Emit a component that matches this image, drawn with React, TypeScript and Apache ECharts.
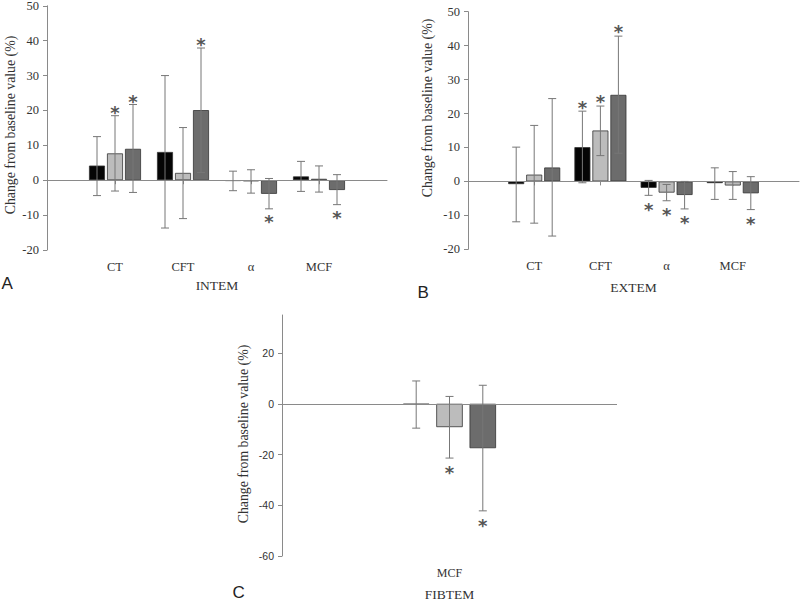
import React, { useEffect, useRef } from 'react';
import * as echarts from 'echarts';

// Categories
const CATS_AB = ['', 'CT', 'CFT', 'α', 'MCF', ''];
const CATS_C = ['MCF'];

// Y tick values for panel C
const C_TICKS = [-60, -40, -20, 0, 20];

// INTEM (panel A) — series 1 (black), 2 (light grey), 3 (dark grey)
const INTEM_MEAN_1 = [4.2, 8.1, -0.2, 1.1];
const INTEM_HIGH_1 = [12.5, 30.0, 2.6, 5.4];
const INTEM_LOW_1 = [-4.4, -13.7, -3.0, -3.2];
const INTEM_SIG_1 = [0, 0, 0, 0];
const INTEM_MEAN_2 = [7.7, 2.1, -0.3, 0.4];
const INTEM_HIGH_2 = [18.5, 15.1, 3.0, 4.1];
const INTEM_LOW_2 = [-3.1, -11.0, -3.7, -3.4];
const INTEM_SIG_2 = [1, 0, 0, 0];
const INTEM_MEAN_3 = [9.0, 20.1, -3.9, -2.8];
const INTEM_HIGH_3 = [21.7, 37.9, 0.5, 1.6];
const INTEM_LOW_3 = [-3.5, 2.2, -8.2, -7.0];
const INTEM_SIG_3 = [1, 1, -1, -1];

// EXTEM (panel B)
const EXTEM_MEAN_1 = [-0.8, 10.1, -1.9, -0.5];
const EXTEM_HIGH_1 = [10.1, 20.7, 0.3, 4.0];
const EXTEM_LOW_1 = [-11.9, -0.4, -4.1, -5.3];
const EXTEM_SIG_1 = [0, 1, -1, 0];
const EXTEM_MEAN_2 = [2.0, 15.0, -3.3, -1.2];
const EXTEM_HIGH_2 = [16.5, 22.2, -0.9, 2.9];
const EXTEM_LOW_2 = [-12.3, 7.6, -5.7, -5.3];
const EXTEM_SIG_2 = [0, 1, -1, 0];
const EXTEM_MEAN_3 = [4.1, 25.5, -4.0, -3.5];
const EXTEM_HIGH_3 = [24.4, 42.8, 0.0, 1.4];
const EXTEM_LOW_3 = [-16.1, 8.3, -8.1, -8.3];
const EXTEM_SIG_3 = [0, 1, -1, -1];

// FIBTEM (panel C)
const FIBTEM_MEAN_1 = [-0.3];
const FIBTEM_HIGH_1 = [9.0];
const FIBTEM_LOW_1 = [-9.6];
const FIBTEM_SIG_1 = [0];
const FIBTEM_MEAN_2 = [-9.2];
const FIBTEM_HIGH_2 = [2.9];
const FIBTEM_LOW_2 = [-21.4];
const FIBTEM_SIG_2 = [-1];
const FIBTEM_MEAN_3 = [-17.5];
const FIBTEM_HIGH_3 = [7.3];
const FIBTEM_LOW_3 = [-42.2];
const FIBTEM_SIG_3 = [-1];

const COLORS = ['#050505', '#bcbcbc', '#6c6c6c'];
const TEXT = '#333';
const AXIS = '#8a8a8a';
const ERR = '#777';
const STAR = '#555';
const SERIF = 'Liberation Serif';
const SANS = 'Liberation Sans';

function padded(arr: number[]) {
  return ['-', ...arr, '-'];
}

function errData(
  highs: number[][], lows: number[][], sigs: number[][], shift: number
) {
  const out: number[][] = [];
  for (let s = 0; s < 3; s++) {
    for (let i = 0; i < highs[s].length; i++) {
      out.push([i + shift, lows[s][i], highs[s][i], sigs[s][i], s]);
    }
  }
  return out;
}

function makeRender(spacing: number, capW: number, starGap: number) {
  return (params: any, api: any) => {
    const x = api.value(0);
    const lo = api.value(1);
    const hi = api.value(2);
    const sig = api.value(3);
    const s = api.value(4);
    const pLo = api.coord([x, lo]);
    const pHi = api.coord([x, hi]);
    const cx = pLo[0] + (s - 1) * spacing;
    const ls = { stroke: ERR, lineWidth: 1 };
    const children: any[] = [
      { type: 'line', shape: { x1: cx, y1: pHi[1], x2: cx, y2: pLo[1] }, style: ls },
      { type: 'line', shape: { x1: cx - capW / 2, y1: pHi[1], x2: cx + capW / 2, y2: pHi[1] }, style: ls },
      { type: 'line', shape: { x1: cx - capW / 2, y1: pLo[1], x2: cx + capW / 2, y2: pLo[1] }, style: ls },
    ];
    const fs = 18;
    if (sig !== 0) {
      const cy = sig > 0 ? pHi[1] - starGap : pLo[1] + starGap;
      children.push({
        type: 'text',
        x: cx,
        y: cy + 0.27 * fs,
        style: {
          text: '*',
          fill: STAR,
          fontSize: fs,
          fontWeight: 'bold',
          fontFamily: 'DejaVu Sans',
          align: 'center',
          verticalAlign: 'middle',
        },
      });
    }
    return { type: 'group', children };
  };
}

function barSeries(data: any[], idx: number, axis: number, barWidth: number, gap: string, withZero: boolean) {
  const s: any = {
    type: 'bar',
    xAxisIndex: axis,
    yAxisIndex: axis,
    data,
    barWidth,
    barGap: gap,
    itemStyle: { color: COLORS[idx], borderColor: '#333', borderWidth: 0.8 },
    silent: true,
  };
  if (withZero) {
    s.markLine = {
      silent: true,
      symbol: 'none',
      label: { show: false },
      lineStyle: { color: AXIS, width: 1, type: 'solid' },
      data: [{ yAxis: 0 }],
    };
  }
  return s;
}

export default function App() {
  const ref = useRef<HTMLDivElement>(null);

  useEffect(() => {
    if (!ref.current) return;
    const chart = echarts.init(ref.current, undefined, { renderer: 'svg' });

    const yLabelSerif = { color: TEXT, fontFamily: SERIF, fontSize: 12.5, margin: 8 };
    const xLabelSerif = { color: TEXT, fontFamily: SERIF, fontSize: 12.5, margin: 10, interval: 0 };
    const titleStyle = { color: TEXT, fontFamily: SERIF, fontSize: 13.5 };

    const option: any = {
      animation: false,
      backgroundColor: '#fff',
      grid: [
        { left: 47, top: 5.8, width: 340, height: 244.2, outerBoundsMode: 'none' },
        { left: 468, top: 11.7, width: 331, height: 237.6, outerBoundsMode: 'none' },
        { left: 282, top: 315, width: 335, height: 241, outerBoundsMode: 'none' },
      ],
      xAxis: [
        {
          gridIndex: 0, type: 'category', data: CATS_AB, boundaryGap: false,
          axisLine: { lineStyle: { color: AXIS } },
          axisTick: { interval: (i: number) => i > 0 && i < 5, length: 4, lineStyle: { color: AXIS } },
          axisLabel: xLabelSerif,
          name: 'INTEM', nameLocation: 'middle', nameGap: 28,
          nameTextStyle: titleStyle,
        },
        {
          gridIndex: 1, type: 'category', data: CATS_AB, boundaryGap: false,
          axisLine: { lineStyle: { color: AXIS } },
          axisTick: { interval: (i: number) => i > 0 && i < 5, length: 4, lineStyle: { color: AXIS } },
          axisLabel: xLabelSerif,
          name: 'EXTEM', nameLocation: 'middle', nameGap: 31,
          nameTextStyle: titleStyle,
        },
        {
          gridIndex: 2, type: 'category', data: CATS_C, boundaryGap: true,
          axisLine: { show: false },
          axisTick: { show: false },
          axisLabel: { color: TEXT, fontFamily: SERIF, fontSize: 12, margin: 11 },
          name: 'FIBTEM', nameLocation: 'middle', nameGap: 31,
          nameTextStyle: titleStyle,
        },
      ],
      yAxis: [
        {
          gridIndex: 0, type: 'value', min: -20, max: 50, interval: 10,
          axisLine: { show: true, lineStyle: { color: AXIS } },
          axisTick: { show: true, length: 4, lineStyle: { color: AXIS } },
          splitLine: { show: false },
          axisLabel: yLabelSerif,
        },
        {
          gridIndex: 1, type: 'value', min: -20, max: 50, interval: 10,
          axisLine: { show: true, lineStyle: { color: AXIS } },
          axisTick: { show: true, length: 4, lineStyle: { color: AXIS } },
          splitLine: { show: false },
          axisLabel: yLabelSerif,
        },
        {
          gridIndex: 2, type: 'value', min: -60, max: 35, interval: 20,
          axisLine: { show: true, lineStyle: { color: AXIS } },
          axisTick: { show: true, length: 4, lineStyle: { color: AXIS }, customValues: C_TICKS },
          splitLine: { show: false },
          axisLabel: { color: TEXT, fontFamily: SANS, fontSize: 10.5, margin: 8, customValues: C_TICKS },
        },
      ],
      graphic: [
        { type: 'text', x: 10, y: 125, rotation: Math.PI / 2, style: { text: 'Change from baseline value (%)', fill: TEXT, font: `13.8px "${SERIF}"`, align: 'center', verticalAlign: 'middle' } },
        { type: 'text', x: 427, y: 108, rotation: Math.PI / 2, style: { text: 'Change from baseline value (%)', fill: TEXT, font: `13.8px "${SERIF}"`, align: 'center', verticalAlign: 'middle' } },
        { type: 'text', x: 243, y: 434, rotation: Math.PI / 2, style: { text: 'Change from baseline value (%)', fill: TEXT, font: `13.8px "${SERIF}"`, align: 'center', verticalAlign: 'middle' } },
        { type: 'text', x: 1.5, y: 283, style: { text: 'A', fill: '#222', font: `17px "${SANS}"`, verticalAlign: 'middle' } },
        { type: 'text', x: 417.5, y: 292, style: { text: 'B', fill: '#222', font: `17px "${SANS}"`, verticalAlign: 'middle' } },
        { type: 'text', x: 232.5, y: 592, style: { text: 'C', fill: '#222', font: `17px "${SANS}"`, verticalAlign: 'middle' } },
      ],
      series: [
        barSeries(padded(INTEM_MEAN_1), 0, 0, 16, '12.5%', true),
        barSeries(padded(INTEM_MEAN_2), 1, 0, 16, '12.5%', false),
        barSeries(padded(INTEM_MEAN_3), 2, 0, 16, '12.5%', false),
        {
          type: 'custom', xAxisIndex: 0, yAxisIndex: 0, silent: true, z: 5,
          encode: { x: 0, y: [1, 2] },
          renderItem: makeRender(18, 8, 8),
          data: errData([INTEM_HIGH_1, INTEM_HIGH_2, INTEM_HIGH_3], [INTEM_LOW_1, INTEM_LOW_2, INTEM_LOW_3], [INTEM_SIG_1, INTEM_SIG_2, INTEM_SIG_3], 1),
        },
        barSeries(padded(EXTEM_MEAN_1), 0, 1, 16, '12.5%', true),
        barSeries(padded(EXTEM_MEAN_2), 1, 1, 16, '12.5%', false),
        barSeries(padded(EXTEM_MEAN_3), 2, 1, 16, '12.5%', false),
        {
          type: 'custom', xAxisIndex: 1, yAxisIndex: 1, silent: true, z: 5,
          encode: { x: 0, y: [1, 2] },
          renderItem: makeRender(18, 8, 9),
          data: errData([EXTEM_HIGH_1, EXTEM_HIGH_2, EXTEM_HIGH_3], [EXTEM_LOW_1, EXTEM_LOW_2, EXTEM_LOW_3], [EXTEM_SIG_1, EXTEM_SIG_2, EXTEM_SIG_3], 1),
        },
        barSeries(FIBTEM_MEAN_1, 0, 2, 26.5, '25.6%', true),
        barSeries(FIBTEM_MEAN_2, 1, 2, 26.5, '25.6%', false),
        barSeries(FIBTEM_MEAN_3, 2, 2, 26.5, '25.6%', false),
        {
          type: 'custom', xAxisIndex: 2, yAxisIndex: 2, silent: true, z: 5,
          encode: { x: 0, y: [1, 2] },
          renderItem: makeRender(33.3, 8, 10),
          data: errData([FIBTEM_HIGH_1, FIBTEM_HIGH_2, FIBTEM_HIGH_3], [FIBTEM_LOW_1, FIBTEM_LOW_2, FIBTEM_LOW_3], [FIBTEM_SIG_1, FIBTEM_SIG_2, FIBTEM_SIG_3], 0),
        },
      ],
    };

    chart.setOption(option);
    return () => chart.dispose();
  }, []);

  return (
    <div
      ref={ref}
      style={{ position: 'fixed', left: 0, top: 0, width: 800, height: 601, background: '#fff' }}
    />
  );
}
